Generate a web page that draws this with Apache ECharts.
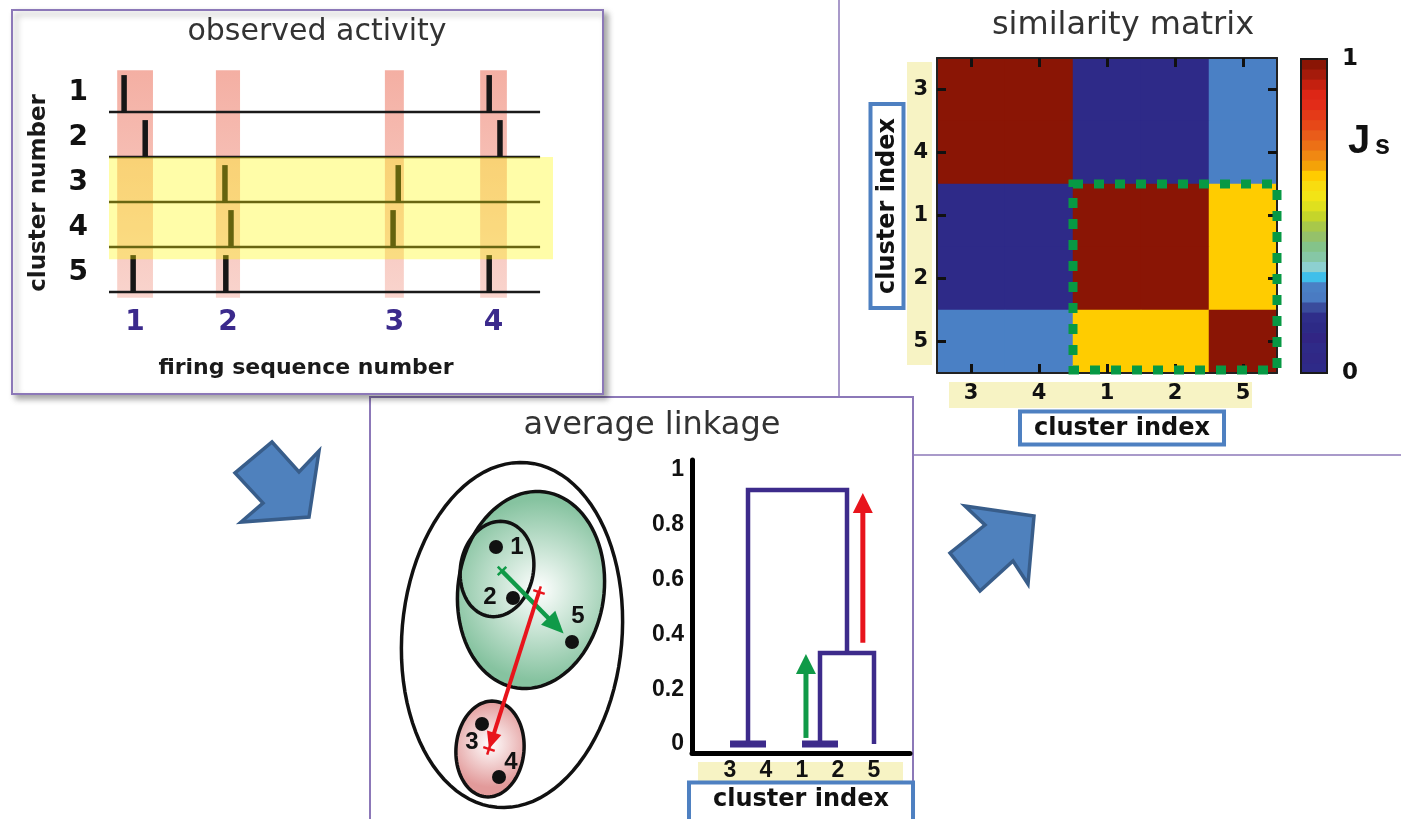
<!DOCTYPE html>
<html>
<head>
<meta charset="utf-8">
<script src="https://cdn.jsdelivr.net/npm/echarts@6/dist/echarts.min.js"></script>
<style>html,body{margin:0;padding:0;background:#fff;}#chart{width:1401px;height:819px;}</style>
</head>
<body>
<div id="chart"></div>
<script>
// ================= DATA =================
// observed activity (raster): spike times per cluster, in arbitrary time units (0..100)
const clusterNames = ['1', '2', '3', '4', '5'];
const spikesCluster1 = [3.5, 88.2];
const spikesCluster2 = [8.4, 90.7];
const spikesCluster3 = [26.9, 67.1];
const spikesCluster4 = [28.3, 65.9];
const spikesCluster5 = [5.6, 27.1, 88.2];
const sequenceWindows = [[1.9, 10.2], [24.8, 30.4], [64.0, 68.4], [86.1, 92.3]];
const sequenceLabels = ['1', '2', '3', '4'];
const assemblyClusters = [3, 4];

// similarity matrix (J_s) between clusters 1..5, displayed in matrixOrder
const matrixOrder = ['3', '4', '1', '2', '5'];
const simRow1 = [1, 1, 0.02, 0.02, 0.63];
const simRow2 = [1, 1, 0.02, 0.02, 0.63];
const simRow3 = [0.02, 0.02, 1, 1, 0.26];
const simRow4 = [0.02, 0.02, 1, 1, 0.26];
const simRow5 = [0.63, 0.63, 0.26, 0.26, 1];
const highlightBlock = ['1', '5'];
const colorbarTicks = [0, 1];

// average linkage dendrogram
const leafOrder = ['3', '4', '1', '2', '5'];
const mergeLeft = ['3', '1', '12', '34'];
const mergeRight = ['4', '2', '5', '125'];
const mergeHeight = [0, 0, 0.332, 0.927];
const dendroTicks = [0, 0.2, 0.4, 0.6, 0.8, 1];
const greenLinkArrow = [2.11, 0.022, 2.11, 0.328];
const redLinkArrow = [3.69, 0.369, 3.69, 0.916];

// cluster diagram (schematic units)
const pointNames = ['1', '2', '3', '4', '5'];
const pointX = [9.6, 11.3, 8.2, 9.9, 17.2];
const pointY = [26.3, 21.2, 8.6, 3.3, 16.8];
// ellipse: centre x, centre y, radius x, radius y, tilt (deg)
const ellipseAll = [11.2, 17.5, 11.0, 17.3, 5];
const ellipse125 = [13.1, 22.0, 7.3, 9.9, 8];
const ellipse34 = [9.0, 6.1, 3.4, 4.8, 5];
const ellipse12 = [9.7, 24.1, 3.65, 4.8, 10];
const greenCentroid = [10.2, 23.9];
const redCentroidFrom = [13.9, 21.8];
const redCentroidTo = [8.9, 6.1];

// ================= STYLES =================
const FONT = '"DejaVu Sans", "Liberation Sans", sans-serif';
const FONT_AR = '"Liberation Sans", Arial, sans-serif';
const PANEL = '#8c78b8';
const STRIP = '#f7f3c4';
const BOXBLUE = '#4e80c1';
const PURPLE = '#3d2b8b';
const GREEN = '#109a48';
const RED = '#e8141c';
// colour steps of the J_s colour bar, from 0 (bottom) to 1 (top)
const jetSteps = ['#2e2a88', '#302886', '#2f2a88', '#312584', '#2d2a86', '#2f2e8a', '#3a4c9c', '#4a7bc2', '#4a80c5',
  '#3fbfea', '#8dd0d0', '#86c7a6', '#84c38a', '#95c16a', '#a8c84a', '#c5d52a', '#dfe01e', '#f2e416', '#f8dc10',
  '#ffcc00', '#f4a208', '#f08812', '#ec7016', '#e95c1a', '#e64818', '#e43a18', '#e22c18', '#dd2616', '#c4200f',
  '#a51b0b', '#8a1505'];
const N_STEPS = jetSteps.length;

// ================= BUILD =================
const spikeArrays = [spikesCluster1, spikesCluster2, spikesCluster3, spikesCluster4, spikesCluster5];
const spikeData = [];
spikeArrays.forEach((arr, k) => arr.forEach(t => spikeData.push([t, k + 1])));
const windowCenters = sequenceWindows.map(w => (w[0] + w[1]) / 2);
const ROW_LABEL_SHIFT = 0.43;
const rowLabelValues = clusterNames.map((n, i) => i + 1 - ROW_LABEL_SHIFT);

const simRows = [simRow1, simRow2, simRow3, simRow4, simRow5];
const heatData = [];
matrixOrder.forEach((cy, yi) => matrixOrder.forEach((cx, xi) => {
  heatData.push([xi, yi, simRows[+cy - 1][+cx - 1]]);
}));
const blockData = [[matrixOrder.indexOf(highlightBlock[0]), matrixOrder.indexOf(highlightBlock[1])]];
const heatPieces = jetSteps.map((c, i) => i === N_STEPS - 1
  ? { gte: i / N_STEPS, lte: 1, color: c }
  : { gte: i / N_STEPS, lt: (i + 1) / N_STEPS, color: c });

// dendrogram links from merge list
const nodeX = {}, nodeH = {};
leafOrder.forEach((l, i) => { nodeX[l] = i; nodeH[l] = 0; });
const linkData = mergeLeft.map((a, i) => {
  const b = mergeRight[i], h = mergeHeight[i];
  const row = [nodeX[a], nodeH[a], nodeX[b], nodeH[b], h];
  nodeX[a + b] = (nodeX[a] + nodeX[b]) / 2; nodeH[a + b] = h;
  return row;
});

const ARROW_STOP = 0.88;
const p5 = [pointX[4], pointY[4]];
const diagramArrows = [
  [greenCentroid[0], greenCentroid[1],
   greenCentroid[0] + (p5[0] - greenCentroid[0]) * ARROW_STOP,
   greenCentroid[1] + (p5[1] - greenCentroid[1]) * ARROW_STOP, 0],
  [redCentroidFrom[0], redCentroidFrom[1], redCentroidTo[0], redCentroidTo[1], 1]
];
const diagramArrowStyle = [
  { color: GREEN, shaft: 4.5, headL: 22, headW: 20, crossStart: true, crossEnd: false },
  { color: RED, shaft: 4, headL: 17, headW: 15, crossStart: true, crossEnd: true }
];
const ellipseData = [ellipseAll, ellipse125, ellipse34, ellipse12];
const ellipseStyles = [
  { fill: null },
  { fill: { type: 'radial', x: 0.55, y: 0.5, r: 0.6, colorStops: [{ offset: 0, color: '#ffffff' }, { offset: 1, color: '#86c3a0' }] } },
  { fill: { type: 'radial', x: 0.5, y: 0.45, r: 0.6, colorStops: [{ offset: 0, color: '#ffffff' }, { offset: 1, color: '#e29a9a' }] } },
  { fill: null }
];
const pointLabelOffsets = [[21, 0], [-23, -1], [-10, 18], [12, -15], [6, -26]];

function arrowGroup(p1, p2, color, shaftW, headL, headW, crossStart, crossEnd) {
  const dx = p2[0] - p1[0], dy = p2[1] - p1[1];
  const L = Math.hypot(dx, dy) || 1;
  const ux = dx / L, uy = dy / L, nx = -uy, ny = ux;
  const bx = p2[0] - ux * headL, by = p2[1] - uy * headL;
  const ch = [
    { type: 'line', shape: { x1: p1[0], y1: p1[1], x2: bx + ux * 2, y2: by + uy * 2 }, style: { stroke: color, lineWidth: shaftW } },
    { type: 'polygon', shape: { points: [[p2[0], p2[1]], [bx + nx * headW / 2, by + ny * headW / 2], [bx - nx * headW / 2, by - ny * headW / 2]] }, style: { fill: color } }
  ];
  const cross = (q) => {
    ch.push({ type: 'line', shape: { x1: q[0] - nx * 6, y1: q[1] - ny * 6, x2: q[0] + nx * 6, y2: q[1] + ny * 6 }, style: { stroke: color, lineWidth: 2.5 } });
    ch.push({ type: 'line', shape: { x1: q[0] - ux * 6, y1: q[1] - uy * 6, x2: q[0] + ux * 6, y2: q[1] + uy * 6 }, style: { stroke: color, lineWidth: 2.5 } });
  };
  if (crossStart) cross(p1);
  if (crossEnd) cross(p2);
  return { type: 'group', children: ch };
}

const WINDOW_TOP = 0.07, WINDOW_BOTTOM = 5.13, LINE_END = 100, BAND_END = 103, SPIKE_H = 0.82, BAND_PAD = 0.27;

const boxRich = {
  b: { fontFamily: FONT, fontSize: 24, fontWeight: 'bold', color: '#111', borderColor: BOXBLUE, borderWidth: 4,
       backgroundColor: '#fff', padding: [3, 12, 2, 12], lineHeight: 30 }
};

// axis indices
const AX_RASTER = 0, AX_HEAT = 1, AX_BAR = 3, AX_DENDRO = 4, AX_DIAG = 5;
const heatTick = { show: true, inside: true, alignWithLabel: true, length: 9, lineStyle: { color: '#111', width: 3 } };

const series = [];
// sequence windows (pink)
series.push({
  type: 'custom', xAxisIndex: AX_RASTER, yAxisIndex: AX_RASTER, z: 1, silent: true, data: sequenceWindows,
  renderItem: (p, api) => {
    const a = api.coord([api.value(0), WINDOW_TOP]), b = api.coord([api.value(1), WINDOW_BOTTOM]);
    return { type: 'rect', shape: { x: a[0], y: a[1], width: b[0] - a[0], height: b[1] - a[1] },
      style: { fill: { type: 'linear', x: 0, y: 0, x2: 0, y2: 1, colorStops: [{ offset: 0, color: '#f4afa3' }, { offset: 1, color: '#f9d4cd' }] } } };
  }
});
// baselines
series.push({
  type: 'custom', xAxisIndex: AX_RASTER, yAxisIndex: AX_RASTER, z: 2, silent: true, data: clusterNames.map((n, i) => [0, i + 1]),
  renderItem: (p, api) => {
    const a = api.coord([0, api.value(1)]), b = api.coord([LINE_END, api.value(1)]);
    return { type: 'line', shape: { x1: a[0], y1: a[1], x2: b[0], y2: b[1] }, style: { stroke: '#1a1a1a', lineWidth: 2.5 } };
  }
});
// spikes
series.push({
  type: 'custom', xAxisIndex: AX_RASTER, yAxisIndex: AX_RASTER, z: 3, silent: true, data: spikeData,
  renderItem: (p, api) => {
    const base = api.coord([api.value(0), api.value(1)]);
    const top = api.coord([api.value(0), api.value(1) - SPIKE_H]);
    return { type: 'rect', shape: { x: base[0] - 2.75, y: top[1], width: 5.5, height: base[1] - top[1] + 1 }, style: { fill: '#161616' } };
  }
});
// assembly band (yellow)
series.push({
  type: 'custom', xAxisIndex: AX_RASTER, yAxisIndex: AX_RASTER, z: 4, silent: true, data: [[assemblyClusters[0], assemblyClusters[1]]],
  renderItem: (p, api) => {
    const a = api.coord([0, api.value(0) - 1]), b = api.coord([BAND_END, api.value(1) + BAND_PAD]);
    return { type: 'rect', shape: { x: a[0], y: a[1], width: b[0] - a[0], height: b[1] - a[1] }, style: { fill: 'rgba(255,248,0,0.34)' } };
  }
});
// heatmap
const HEAT_INDEX = series.length;
series.push({
  type: 'heatmap', xAxisIndex: AX_HEAT, yAxisIndex: AX_HEAT, data: heatData, silent: true, itemStyle: { borderWidth: 0 }, z: 0
});
// dotted block
series.push({
  type: 'custom', xAxisIndex: AX_HEAT, yAxisIndex: AX_HEAT, z: 20, silent: true, data: blockData,
  renderItem: (p, api) => {
    const s = api.size([1, 1]);
    const a = api.coord([api.value(0), api.value(0)]), b = api.coord([api.value(1), api.value(1)]);
    const x1 = a[0] - s[0] / 2, y1 = a[1] - s[1] / 2, x2 = b[0] + s[0] / 2, y2 = b[1] + s[1] / 2;
    return { type: 'rect', shape: { x: x1, y: y1, width: x2 - x1, height: y2 - y1 - 3 },
      style: { fill: null, stroke: '#079944', lineWidth: 9, lineDash: [10, 11] } };
  }
});
// colour bar steps
series.push({
  type: 'custom', xAxisIndex: AX_BAR, yAxisIndex: AX_BAR, z: 2, silent: true, data: jetSteps.map((c, i) => [i]),
  renderItem: (p, api) => {
    const i = api.value(0);
    const a = api.coord([0, (i + 1) / N_STEPS]), b = api.coord([1, i / N_STEPS]);
    return { type: 'rect', shape: { x: a[0], y: a[1] - 0.4, width: b[0] - a[0], height: b[1] - a[1] + 0.8 }, style: { fill: jetSteps[i] } };
  }
});
// colour bar frame
series.push({
  type: 'custom', xAxisIndex: AX_BAR, yAxisIndex: AX_BAR, z: 3, silent: true, data: [[0]],
  renderItem: (p, api) => {
    const a = api.coord([0, 1]), b = api.coord([1, 0]);
    return { type: 'rect', shape: { x: a[0], y: a[1], width: b[0] - a[0], height: b[1] - a[1] }, style: { fill: null, stroke: '#1a1a1a', lineWidth: 2 } };
  }
});
// dendrogram links
series.push({
  type: 'custom', xAxisIndex: AX_DENDRO, yAxisIndex: AX_DENDRO, z: 3, silent: true, data: linkData,
  renderItem: (p, api) => {
    const xl = api.value(0), hl = api.value(1), xr = api.value(2), hr = api.value(3), h = api.value(4);
    const pts = [api.coord([xl, hl]), api.coord([xl, h]), api.coord([xr, h]), api.coord([xr, hr])];
    return { type: 'polyline', shape: { points: pts }, style: { stroke: PURPLE, lineWidth: h === 0 ? 7 : 4.5, fill: null } };
  }
});
// dendrogram arrows
series.push({
  type: 'custom', xAxisIndex: AX_DENDRO, yAxisIndex: AX_DENDRO, z: 4, silent: true, data: [greenLinkArrow, redLinkArrow],
  renderItem: (p, api) => {
    const a = api.coord([api.value(0), api.value(1)]), b = api.coord([api.value(2), api.value(3)]);
    return arrowGroup(a, b, p.dataIndex === 0 ? GREEN : RED, 5, 20, 20, false, false);
  }
});
// ellipses
series.push({
  type: 'custom', xAxisIndex: AX_DIAG, yAxisIndex: AX_DIAG, z: 1, silent: true, data: ellipseData,
  renderItem: (p, api) => {
    const c = api.coord([api.value(0), api.value(1)]);
    const s = api.size([api.value(2), api.value(3)]);
    const th = api.value(4) * Math.PI / 180;
    const pts = [];
    for (let k = 0; k < 96; k++) {
      const t = 2 * Math.PI * k / 96;
      const u = s[0] * Math.cos(t), v = s[1] * Math.sin(t);
      pts.push([c[0] + u * Math.cos(th) - v * Math.sin(th), c[1] + u * Math.sin(th) + v * Math.cos(th)]);
    }
    const st = ellipseStyles[p.dataIndex];
    return { type: 'polygon', shape: { points: pts }, style: { fill: st.fill, stroke: '#111', lineWidth: 3.5 } };
  }
});
// points
series.push({
  type: 'scatter', xAxisIndex: AX_DIAG, yAxisIndex: AX_DIAG, z: 3, silent: true, symbolSize: 14,
  itemStyle: { color: '#111', opacity: 1 },
  label: { show: true, position: 'inside', formatter: '{b}', fontFamily: FONT_AR, fontSize: 24, fontWeight: 'bold', color: '#111' },
  data: pointNames.map((n, i) => ({ name: n, value: [pointX[i], pointY[i]], label: { offset: pointLabelOffsets[i] } }))
});
// diagram arrows
series.push({
  type: 'custom', xAxisIndex: AX_DIAG, yAxisIndex: AX_DIAG, z: 5, silent: true, data: diagramArrows,
  renderItem: (p, api) => {
    const a = api.coord([api.value(0), api.value(1)]), b = api.coord([api.value(2), api.value(3)]);
    const st = diagramArrowStyle[p.dataIndex];
    return arrowGroup(a, b, st.color, st.shaft, st.headL, st.headW, st.crossStart, st.crossEnd);
  }
});

const option = {
  animation: false,
  backgroundColor: '#ffffff',
  title: [
    { text: 'observed activity', left: 312, top: 12, textAlign: 'center', textStyle: { fontFamily: FONT, fontSize: 30, fontWeight: 'normal', color: '#333' } },
    { text: 'similarity matrix', left: 1118, top: 5, textAlign: 'center', textStyle: { fontFamily: FONT, fontSize: 32, fontWeight: 'normal', color: '#333' } },
    { text: 'average linkage', left: 647, top: 405, textAlign: 'center', textStyle: { fontFamily: FONT, fontSize: 32, fontWeight: 'normal', color: '#333' } }
  ],
  grid: [
    { left: 109, top: 67, width: 444, height: 234, outerBoundsMode: 'none' },
    { left: 937, top: 58, width: 340, height: 315, outerBoundsMode: 'none' },
    { left: 1301, top: 59, width: 26, height: 314, outerBoundsMode: 'none' },
    { left: 692, top: 460, width: 218, height: 293, outerBoundsMode: 'none' },
    { left: 400, top: 460, width: 230, height: 350, outerBoundsMode: 'none' }
  ],
  xAxis: [
    { gridIndex: 0, type: 'value', min: 0, max: BAND_END, axisLine: { show: false }, axisTick: { show: false }, splitLine: { show: false },
      axisLabel: { customValues: windowCenters, formatter: v => sequenceLabels[windowCenters.reduce((bi, c, i) => Math.abs(c - v) < Math.abs(windowCenters[bi] - v) ? i : bi, 0)],
        fontFamily: FONT, fontSize: 28, fontWeight: 'bold', color: '#3b2a8c', margin: 8 },
      name: 'firing sequence number', nameLocation: 'middle', nameGap: 56, nameMoveOverlap: false,
      nameTextStyle: { fontFamily: FONT, fontSize: 22, fontWeight: 'bold', color: '#1a1a1a', padding: [0, 50, 0, 0] } },
    { gridIndex: 1, type: 'category', data: matrixOrder, position: 'bottom', z: 10,
      axisLine: { show: true, onZero: false, lineStyle: { color: '#222', width: 2 } },
      axisTick: heatTick,
      axisLabel: { fontFamily: FONT, fontSize: 21, fontWeight: 'bold', color: '#111', margin: 10 },
      splitLine: { show: false },
      name: '{b|cluster index}', nameLocation: 'middle', nameGap: 40, nameMoveOverlap: false,
      nameTextStyle: { padding: [0, 0, 0, 30], rich: boxRich } },
    { gridIndex: 1, type: 'category', data: matrixOrder, position: 'top', z: 10,
      axisLine: { show: true, onZero: false, lineStyle: { color: '#222', width: 2 } },
      axisTick: heatTick,
      axisLabel: { show: false }, splitLine: { show: false } },
    { gridIndex: 2, type: 'value', min: 0, max: 1, show: false },
    { gridIndex: 3, type: 'value', min: -1.056, max: 5.0, z: 5,
      axisLine: { onZero: false, lineStyle: { color: '#000', width: 5 } }, axisTick: { show: false }, splitLine: { show: false },
      axisLabel: { customValues: leafOrder.map((l, i) => i), formatter: v => leafOrder[Math.round(v)],
        fontFamily: FONT_AR, fontSize: 23, fontWeight: 'bold', color: '#111', margin: 6 },
      name: '{b|cluster index}', nameLocation: 'middle', nameGap: 35, nameMoveOverlap: false,
      nameTextStyle: { rich: { b: Object.assign({}, boxRich.b, { padding: [3, 22, 10, 22] }) } } },
    { gridIndex: 4, type: 'value', min: 0, max: 23, show: false }
  ],
  yAxis: [
    { gridIndex: 0, type: 'value', inverse: true, min: 0, max: 5.2, axisLine: { show: false }, axisTick: { show: false }, splitLine: { show: false },
      axisLabel: { customValues: rowLabelValues, formatter: v => String(Math.round(v + ROW_LABEL_SHIFT)),
        fontFamily: FONT, fontSize: 28, fontWeight: 'bold', color: '#111', margin: 21 },
      name: 'cluster number', nameLocation: 'middle', nameGap: 58, nameMoveOverlap: false,
      nameTextStyle: { fontFamily: FONT, fontSize: 23, fontWeight: 'bold', color: '#1a1a1a', padding: [0, 18, 0, 0] } },
    { gridIndex: 1, type: 'category', data: matrixOrder, inverse: true, position: 'left', z: 10,
      axisLine: { show: true, onZero: false, lineStyle: { color: '#222', width: 2 } },
      axisTick: heatTick,
      axisLabel: { fontFamily: FONT, fontSize: 21, fontWeight: 'bold', color: '#111', margin: 9 },
      splitLine: { show: false },
      name: '{b|cluster index}', nameLocation: 'middle', nameGap: 35, nameMoveOverlap: false,
      nameTextStyle: { padding: [0, 0, 0, 19], rich: boxRich } },
    { gridIndex: 1, type: 'category', data: matrixOrder, inverse: true, position: 'right', z: 10,
      axisLine: { show: true, onZero: false, lineStyle: { color: '#222', width: 2 } },
      axisTick: heatTick,
      axisLabel: { show: false }, splitLine: { show: false } },
    { gridIndex: 2, type: 'value', min: 0, max: 1, position: 'right', axisLine: { show: false }, axisTick: { show: false }, splitLine: { show: false },
      axisLabel: { customValues: colorbarTicks, fontFamily: FONT, fontSize: 23, fontWeight: 'bold', color: '#111', margin: 15 } },
    { gridIndex: 3, type: 'value', min: -0.033, max: 1.0365, z: 5,
      axisLine: { onZero: false, lineStyle: { color: '#000', width: 5 } }, axisTick: { show: false }, splitLine: { show: false },
      axisLabel: { customValues: dendroTicks, formatter: v => String(v), fontFamily: FONT_AR, fontSize: 23, fontWeight: 'bold', color: '#111', margin: 8 } },
    { gridIndex: 4, type: 'value', min: 0, max: 35, show: false }
  ],
  visualMap: [{ type: 'piecewise', show: false, seriesIndex: HEAT_INDEX, dimension: 2, pieces: heatPieces }],
  graphic: [
    { type: 'rect', z: -20, shape: { x: 370, y: 397, width: 543, height: 440 }, style: { fill: '#fff', stroke: PANEL, lineWidth: 2 } },
    { type: 'line', z: -20, shape: { x1: 839, y1: 0, x2: 839, y2: 397 }, style: { stroke: PANEL, lineWidth: 1.5 } },
    { type: 'line', z: -20, shape: { x1: 913, y1: 455, x2: 1401, y2: 455 }, style: { stroke: PANEL, lineWidth: 1.5 } },
    { type: 'rect', z: -19, shape: { x: 12, y: 10, width: 591, height: 384 },
      style: { fill: '#fff', stroke: PANEL, lineWidth: 2, shadowBlur: 6, shadowOffsetX: 4, shadowOffsetY: 4, shadowColor: 'rgba(0,0,0,0.35)' } },
    { type: 'rect', z: -5, shape: { x: 907, y: 62, width: 25, height: 303 }, style: { fill: STRIP } },
    { type: 'rect', z: -5, shape: { x: 949, y: 382, width: 303, height: 26 }, style: { fill: STRIP } },
    { type: 'rect', z: -5, shape: { x: 698, y: 762, width: 205, height: 21 }, style: { fill: STRIP } },
    { type: 'polygon', z: 1, shape: { points: [[272, 442], [299, 472], [319, 451], [309, 517], [241, 522], [263, 503], [235, 473]] },
      style: { fill: '#4f81bd', stroke: '#385d8a', lineWidth: 3.5 } },
    { type: 'polygon', z: 1, shape: { points: [[965, 506], [1034, 516], [1028, 584], [1013, 561], [980, 591], [950, 553], [985, 525]] },
      style: { fill: '#4f81bd', stroke: '#385d8a', lineWidth: 3.5 } },
    { type: 'text', z: 5, x: 1348, y: 122, style: { text: 'J', fontFamily: FONT_AR, fontSize: 40, fontWeight: 'bold', fill: '#111' } },
    { type: 'text', z: 5, x: 1375, y: 133, style: { text: 's', fontFamily: FONT_AR, fontSize: 27, fontWeight: 'bold', fill: '#111' } }
  ],
  series: series
};

const chart = echarts.init(document.getElementById('chart'), null, { renderer: 'canvas' });
chart.setOption(option);
</script>
</body>
</html>
